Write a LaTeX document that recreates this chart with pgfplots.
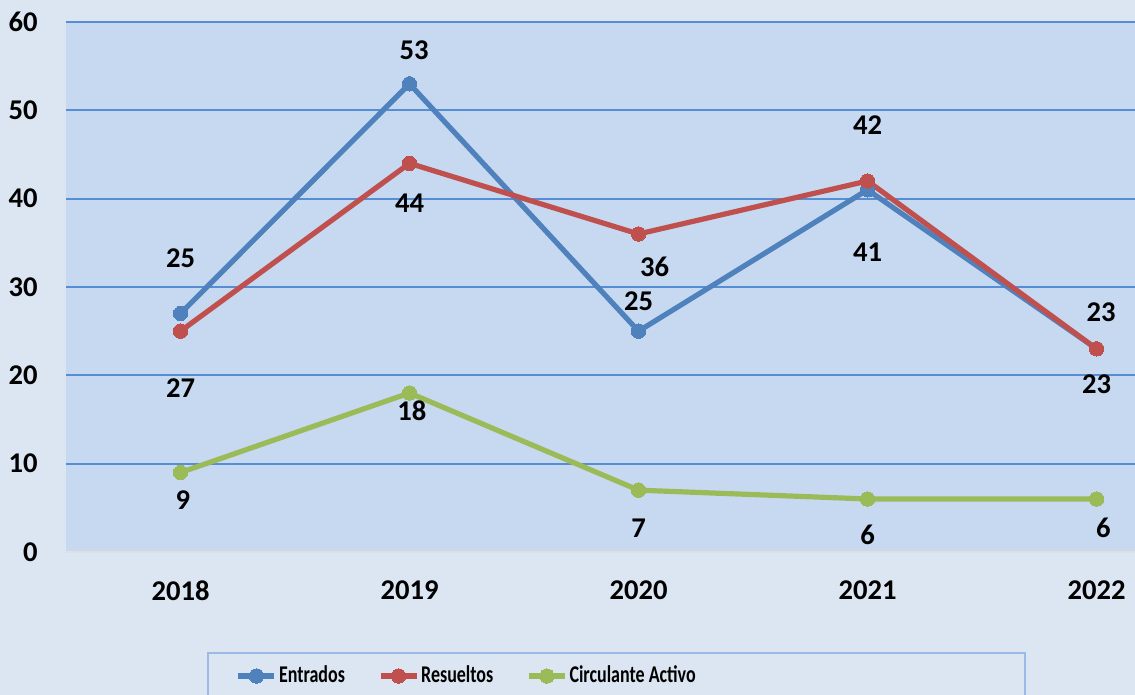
\documentclass[border=0pt]{standalone}
\usepackage{graphicx}
\usepackage{pgfplots}
\pgfplotsset{compat=1.18}
\usepackage{fontspec}
\setmainfont{Carlito}

\definecolor{outerbg}{HTML}{DCE6F2}
\definecolor{plotbg}{HTML}{C6D9F1}
\definecolor{gridblue}{HTML}{558ED5}
\definecolor{cEnt}{HTML}{4F81BD}
\definecolor{cRes}{HTML}{C0504D}
\definecolor{cCir}{HTML}{9BBB59}

\newcommand{\lbl}{\fontsize{14.3}{16}\selectfont\bfseries}
\newcommand{\legtxt}[1]{\scalebox{0.75}[1]{\fontsize{12}{14}\selectfont\bfseries #1}}

\begin{document}
\begin{tikzpicture}
\useasboundingbox (0,0) rectangle (567.5pt,347.5pt);
\clip (0,0) rectangle (567.5pt,347.5pt);
\fill[outerbg] (0,0) rectangle (567.5pt,347.5pt);

\begin{axis}[
  at={(33pt,71.5pt)}, anchor=south west,
  scale only axis,
  width=534.5pt, height=265pt,
  xmin=2017.5, xmax=2022.168,
  ymin=0, ymax=60,
  axis line style={draw=none},
  axis background/.style={fill=plotbg},
  xtick={2018,2019,2020,2021,2022},
  xticklabels={2018,2019,2020,2021,2022},
  ytick={10,20,30,40,50,60},
  extra y ticks={0},
  extra y tick style={grid=none},
  tick style={draw=none},
  ymajorgrids,
  grid style={gridblue, line width=0.9pt},
  /pgf/number format/assume math mode=true,
  tick label style={font=\lbl},
  yticklabel style={anchor=east, inner sep=0pt, xshift=-14pt},
  xticklabel style={anchor=north, inner sep=0pt, yshift=-14pt},
  legend columns=3,
  legend style={draw=none, fill=none, at={(0.1585,-0.234)}, anchor=west,
    nodes={inner xsep=1pt},
    /tikz/every even column/.append style={column sep=15.5pt},
    inner sep=0pt},
  legend image code/.code={
    \draw[mark repeat=2, mark phase=2, #1] plot coordinates {(0pt,0pt) (9pt,0pt) (18pt,0pt)};
  },
  every axis plot/.append style={line width=2.6pt, mark=*, mark size=3.6pt},
  clip=false,
]
\draw[gray!25, line width=0.8pt] (axis cs:2017.5,0) -- (axis cs:2022.168,0);

\addplot[cEnt, mark options={fill=cEnt, draw=cEnt, line width=0pt}] coordinates {
  (2018,27) (2019,53) (2020,25) (2021,41) (2022,23)
};
\addlegendentry{\legtxt{Entrados}}
\addplot[cRes, mark options={fill=cRes, draw=cRes, line width=0pt}] coordinates {
  (2018,25) (2019,44) (2020,36) (2021,42) (2022,23)
};
\addlegendentry{\legtxt{Resueltos}}
\addplot[cCir, mark options={fill=cCir, draw=cCir, line width=0pt}] coordinates {
  (2018,9) (2019,18) (2020,7) (2021,6) (2022,6)
};
\addlegendentry{\legtxt{Circulante Activo}}

\begin{scope}[every node/.style={font=\lbl, inner sep=0pt}]
\node at (axis cs:2018.00,33.3) {25};
\node at (axis cs:2018.00,18.6) {27};
\node at (axis cs:2018.01,5.9) {9};
\node at (axis cs:2019.02,56.8) {53};
\node at (axis cs:2019.00,39.5) {44};
\node at (axis cs:2019.01,16.0) {18};
\node at (axis cs:2020.07,32.3) {36};
\node at (axis cs:2020.00,28.4) {25};
\node at (axis cs:2020.00,2.7) {7};
\node at (axis cs:2021.00,48.3) {42};
\node at (axis cs:2021.00,33.9) {41};
\node at (axis cs:2021.00,1.9) {6};
\node at (axis cs:2022.02,27.1) {23};
\node at (axis cs:2022.00,19.0) {23};
\node at (axis cs:2022.03,2.7) {6};
\end{scope}
\end{axis}

\draw[gridblue!60, line width=0.6pt] (104pt,21pt) rectangle (512.5pt,-5pt);
\end{tikzpicture}
\end{document}
